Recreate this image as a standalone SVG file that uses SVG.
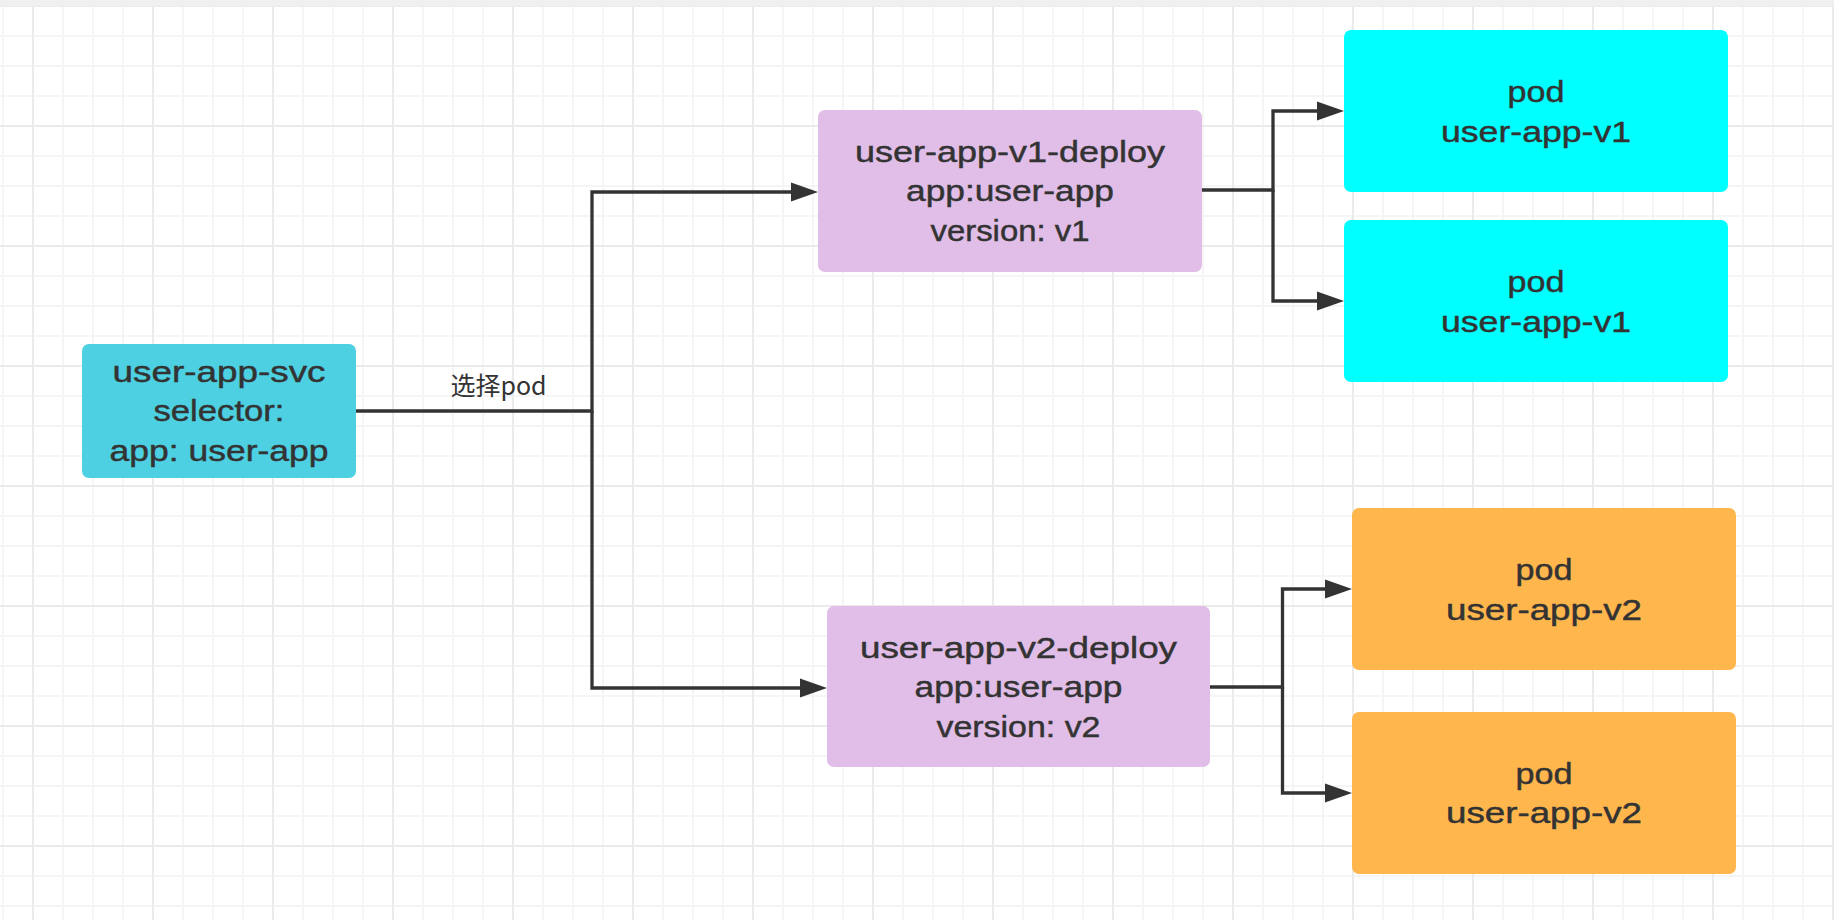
<svg xmlns="http://www.w3.org/2000/svg" width="1834" height="920" viewBox="0 0 1834 920">
  <style>
    .t { font-family: "Liberation Sans", Arial, "Noto Sans CJK SC", sans-serif; font-size: 30px; fill: #333333; stroke: #333333; stroke-width: 0.45; text-anchor: middle; }
    .lbl { font-family: "Noto Sans CJK SC", "Liberation Sans", sans-serif; font-size: 25px; fill: #333333; text-anchor: middle; }
    .edge { fill: none; stroke: #333333; stroke-width: 3.3; stroke-linejoin: miter; }
    .svc { fill: #4dd0e1; }
    .dep { fill: #e1bee7; }
    .pv1 { fill: #00ffff; }
    .pv2 { fill: #ffb74d; }
  </style>
  <defs>
    <pattern id="grid" x="32" y="5" width="120" height="120" patternUnits="userSpaceOnUse">
      <rect x="30" y="0" width="2" height="120" fill="#f5f5f5"/>
      <rect x="60" y="0" width="2" height="120" fill="#f5f5f5"/>
      <rect x="90" y="0" width="2" height="120" fill="#f5f5f5"/>
      <rect x="0" y="30" width="120" height="2" fill="#f5f5f5"/>
      <rect x="0" y="60" width="120" height="2" fill="#f5f5f5"/>
      <rect x="0" y="90" width="120" height="2" fill="#f5f5f5"/>
      <rect x="0" y="0" width="2" height="120" fill="#ebebeb"/>
      <rect x="0" y="0" width="120" height="2" fill="#ebebeb"/>
    </pattern>
    <marker id="arrow" markerUnits="userSpaceOnUse" markerWidth="28" markerHeight="20" refX="0" refY="9.5" orient="auto" viewBox="0 0 28 19">
      <path d="M0,0 L27,9.5 L0,19 Z" fill="#333333"/>
    </marker>
  </defs>

  <rect x="0" y="0" width="1834" height="920" fill="#ffffff"/>
  <rect x="0" y="0" width="1834" height="920" fill="url(#grid)"/>
  <rect x="0" y="0" width="1834" height="6" fill="#f0f0f0"/>

  <g id="connectors">
    <path class="edge" d="M356,411 L592,411 L592,192 L791,192" marker-end="url(#arrow)"/>
    <path class="edge" d="M592,411 L592,688 L800,688" marker-end="url(#arrow)"/>
    <path class="edge" d="M1202,190 L1273,190 L1273,111 L1317,111" marker-end="url(#arrow)"/>
    <path class="edge" d="M1273,190 L1273,301 L1317,301" marker-end="url(#arrow)"/>
    <path class="edge" d="M1210,687 L1282.5,687 L1282.5,589 L1325,589" marker-end="url(#arrow)"/>
    <path class="edge" d="M1282.5,687 L1282.5,793 L1325,793" marker-end="url(#arrow)"/>
    <text class="lbl" x="498.5" y="395">选择pod</text>
  </g>

  <g id="user-app-svc">
    <rect class="svc" x="82" y="344" width="274" height="134" rx="7"/>
    <text class="t" x="219" y="382" textLength="213" lengthAdjust="spacingAndGlyphs">user-app-svc</text>
    <text class="t" x="219" y="421" textLength="131" lengthAdjust="spacingAndGlyphs">selector:</text>
    <text class="t" x="219" y="461" textLength="219" lengthAdjust="spacingAndGlyphs">app: user-app</text>
  </g>

  <g id="user-app-v1-deploy">
    <rect class="dep" x="818" y="110" width="384" height="162" rx="7"/>
    <text class="t" x="1010" y="162" textLength="310" lengthAdjust="spacingAndGlyphs">user-app-v1-deploy</text>
    <text class="t" x="1010" y="201" textLength="208" lengthAdjust="spacingAndGlyphs">app:user-app</text>
    <text class="t" x="1010" y="241" textLength="159" lengthAdjust="spacingAndGlyphs">version: v1</text>
  </g>

  <g id="user-app-v2-deploy">
    <rect class="dep" x="827" y="606" width="383" height="161" rx="7"/>
    <text class="t" x="1018.5" y="658" textLength="317" lengthAdjust="spacingAndGlyphs">user-app-v2-deploy</text>
    <text class="t" x="1018.5" y="697" textLength="208" lengthAdjust="spacingAndGlyphs">app:user-app</text>
    <text class="t" x="1018.5" y="737" textLength="164" lengthAdjust="spacingAndGlyphs">version: v2</text>
  </g>

  <g id="pod-v1-a">
    <rect class="pv1" x="1344" y="30" width="384" height="162" rx="7"/>
    <text class="t" x="1536" y="102" textLength="57" lengthAdjust="spacingAndGlyphs">pod</text>
    <text class="t" x="1536" y="142" textLength="190" lengthAdjust="spacingAndGlyphs">user-app-v1</text>
  </g>

  <g id="pod-v1-b">
    <rect class="pv1" x="1344" y="220" width="384" height="162" rx="7"/>
    <text class="t" x="1536" y="291.5" textLength="57" lengthAdjust="spacingAndGlyphs">pod</text>
    <text class="t" x="1536" y="331.5" textLength="190" lengthAdjust="spacingAndGlyphs">user-app-v1</text>
  </g>

  <g id="pod-v2-a">
    <rect class="pv2" x="1352" y="508" width="384" height="162" rx="7"/>
    <text class="t" x="1544" y="580" textLength="57" lengthAdjust="spacingAndGlyphs">pod</text>
    <text class="t" x="1544" y="619.5" textLength="196" lengthAdjust="spacingAndGlyphs">user-app-v2</text>
  </g>

  <g id="pod-v2-b">
    <rect class="pv2" x="1352" y="712" width="384" height="162" rx="7"/>
    <text class="t" x="1544" y="783.5" textLength="57" lengthAdjust="spacingAndGlyphs">pod</text>
    <text class="t" x="1544" y="823" textLength="196" lengthAdjust="spacingAndGlyphs">user-app-v2</text>
  </g>
</svg>
